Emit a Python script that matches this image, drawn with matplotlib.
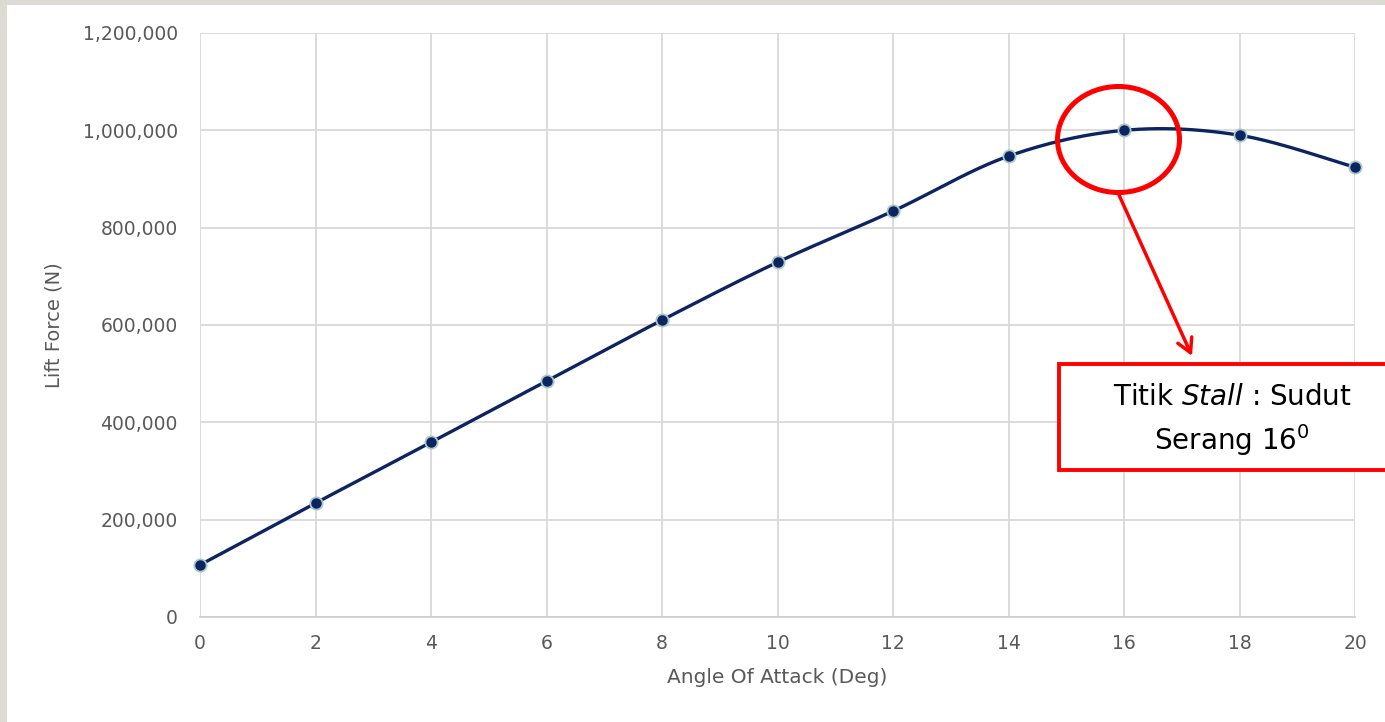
import numpy as np
import matplotlib
matplotlib.use("Agg")
import matplotlib.pyplot as plt
from matplotlib.patches import Ellipse, Rectangle, FancyArrowPatch
from matplotlib.ticker import FuncFormatter

plt.rcParams['font.family'] = ['DejaVu Sans']
plt.rcParams['mathtext.fontset'] = 'dejavusans'

# Lift force versus angle of attack
angle_deg = [0, 2, 4, 6, 8, 10, 12, 14, 16, 18, 20]
lift_force_n = [107000, 234000, 359000, 485000, 610000, 729000,
                834000, 947000, 1000000, 990000, 924000]
x_ticks = list(range(0, 21, 2))
y_ticks = [0, 200000, 400000, 600000, 800000, 1000000, 1200000]

W, H = 1385, 722
DPI = 100


def fx(px):
    return px / W


def fy(py):
    return 1 - py / H


def smooth_curve(xs, ys, n=40):
    """Cubic Bezier smoothing through every point (Catmull-Rom style)."""
    xs = np.asarray(xs, float)
    ys = np.asarray(ys, float)
    P = np.column_stack([xs, ys])
    out = [P[0]]
    for i in range(len(P) - 1):
        p0 = P[i - 1] if i > 0 else P[i]
        p1 = P[i]
        p2 = P[i + 1]
        p3 = P[i + 2] if i + 2 < len(P) else P[i + 1]
        c1 = p1 + (p2 - p0) / 6.0
        c2 = p2 - (p3 - p1) / 6.0
        t = np.linspace(0, 1, n)[1:, None]
        seg = ((1 - t) ** 3) * p1 + 3 * ((1 - t) ** 2) * t * c1 \
            + 3 * (1 - t) * t ** 2 * c2 + t ** 3 * p2
        out.extend(seg)
    out = np.array(out)
    return out[:, 0], out[:, 1]


fig = plt.figure(figsize=(W / DPI, H / DPI), dpi=DPI, facecolor='#dcdcd4')
# white slide area
fig.patches.append(Rectangle((fx(7), 0), 1, fy(5), transform=fig.transFigure,
                             facecolor='white', edgecolor='none', zorder=-5))

ax = fig.add_axes([fx(200), fy(617), fx(1355) - fx(200), fy(33) - fy(617)])
ax.set_facecolor('none')

sx, sy = smooth_curve(angle_deg, lift_force_n)
ax.plot(sx, sy, color='#0c2461', lw=2.4, zorder=3, solid_capstyle='round')
ax.plot(angle_deg, lift_force_n, linestyle='none', marker='o', markersize=8.8,
        markerfacecolor='#0c2461', markeredgecolor='#a7c7c5',
        markeredgewidth=1.3, zorder=4, clip_on=False)

ax.set_xlim(0, 20)
ax.set_ylim(0, 1200000)
ax.set_xticks(x_ticks)
ax.set_yticks(y_ticks)
ax.yaxis.set_major_formatter(FuncFormatter(lambda v, p: f"{int(v):,}"))
ax.grid(True, color='#d9d9d9', lw=1.3)
ax.set_axisbelow(True)
for s in ax.spines.values():
    s.set_visible(False)
ax.spines['bottom'].set_visible(True)
ax.spines['bottom'].set_color('#d0d0d0')
ax.spines['bottom'].set_linewidth(1.3)
ax.tick_params(length=0, labelsize=13.5, labelcolor='#595959')
ax.tick_params(axis='y', pad=16)
ax.tick_params(axis='x', pad=12)

ax.set_xlabel('Angle Of Attack (Deg)', fontsize=14.5, color='#595959')
ax.set_ylabel('Lift Force (N)', fontsize=14, color='#595959')
ax.xaxis.set_label_coords(0.5, (617 - 668) / 584)
ax.yaxis.set_label_coords((64 - 200) / 1155, 0.5)

# stall point highlight
fig.add_artist(Ellipse((fx(1118.5), fy(139.5)), width=122 / W, height=106 / H,
                       transform=fig.transFigure, fill=False,
                       edgecolor='#ff0000', lw=3.6, zorder=10))
fig.add_artist(FancyArrowPatch((fx(1119), fy(195)), (fx(1192), fy(356)),
                               transform=fig.transFigure,
                               arrowstyle='->,head_length=10,head_width=5.5',
                               color='#ff0000', lw=2.5, shrinkA=0, shrinkB=0,
                               zorder=10))
fig.add_artist(Rectangle((fx(1059), fy(470)), fx(1400) - fx(1059), fy(364) - fy(470),
                         transform=fig.transFigure, fill=True, facecolor='white',
                         edgecolor='#ff0000', lw=2.8, zorder=10))
fig.text(fx(1232), fy(397), r'Titik $\mathit{Stall}$ : Sudut', ha='center', va='center',
         fontsize=20, color='black', zorder=11)
fig.text(fx(1232), fy(440), r'Serang 16$^{0}$', ha='center', va='center',
         fontsize=20, color='black', zorder=11)

fig.savefig('out.png', dpi=DPI, facecolor=fig.get_facecolor())
